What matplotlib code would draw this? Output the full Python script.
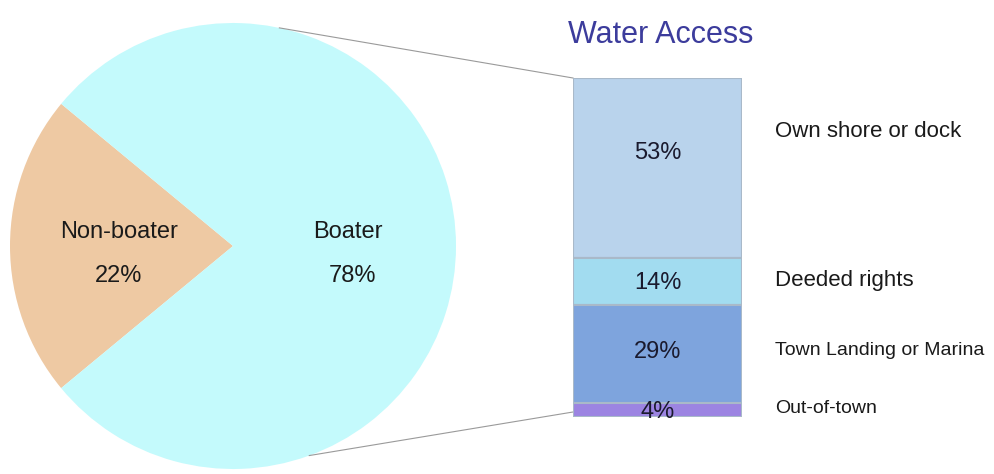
import matplotlib.pyplot as plt
import numpy as np

plt.rcParams['font.family'] = ['Liberation Sans', 'DejaVu Sans']

# pie: boaters vs non-boaters
pie_labels = ["Non-boater", "Boater"]
pie_values = [22, 78]
pie_colors = ["#eec9a3", "#c4fafc"]

# bar: water access among boaters
access_labels = ["Own shore or dock", "Deeded rights", "Town Landing or Marina", "Out-of-town"]
access_values = [53, 14, 29, 4]
access_colors = ["#b9d3ec", "#a2dcf0", "#7ea4dd", "#9c84e2"]

W, H = 994, 474
fig = plt.figure(figsize=(W / 100, H / 100), dpi=100)

# main axes in pixel units (y up)
ax = fig.add_axes([0, 0, 1, 1])
cx, cy, r = 233, H - 246, 223
start = 180 - pie_values[0] * 360 / 100 / 2
wedges, _ = ax.pie(pie_values, colors=pie_colors, startangle=start, counterclock=True,
                   center=(cx, cy), radius=r, frame=True)
ax.set_xlim(0, W)
ax.set_ylim(0, H)
ax.set_aspect('equal')
ax.axis('off')

# pie labels
txt = '#1a1a1a'
for (x, y), name, v in zip([(119, 232), (348, 232)], pie_labels, pie_values):
    ax.text(x, H - y, name, ha='center', va='center', fontsize=17, color=txt)
    ax.text(x + (4 if name == "Boater" else 0), H - 276, f"{v}%", ha='center', va='center',
            fontsize=17, color=txt)

# bar axes
bx0, bx1, by_top, by_bot = 573, 742, 78, 417
px_per = (by_bot - by_top) / 100
bax = fig.add_axes([bx0 / W, (H - by_bot) / H, (bx1 - bx0) / W, (by_bot - by_top) / H])
bottoms = 100 - np.cumsum(access_values)
bax.bar(0, access_values, bottom=bottoms, width=1, color=access_colors,
        edgecolor='#a9b9c9', linewidth=1.5)
bax.set_xlim(-0.5, 0.5)
bax.set_ylim(0, 100)
bax.axis('off')

val_dy = [15, -2, 2, -2]
lab_dy = [36, 1, 4, 2]
lab_fs = [16, 16, 14, 14]
for i, v in enumerate(access_values):
    mid = bottoms[i] + v / 2
    bax.text(0, mid + val_dy[i] / px_per, f"{v}%", ha='center', va='center',
             fontsize=17, color='#1a1a2e')
    bax.text(0.5 + 33 / (bx1 - bx0), mid + lab_dy[i] / px_per, access_labels[i],
             ha='left', va='center', fontsize=lab_fs[i], color=txt, clip_on=False)

# title
fig.text(661 / W, 1 - 35 / H, "Water Access", ha='center', va='center',
         fontsize=22, color='#3c3c9c')

# connector lines from pie to bar
for ang, by in [(78, by_top), (-70, by_bot - 5)]:
    px = cx + r * np.cos(np.radians(ang))
    py = cy + r * np.sin(np.radians(ang))
    ax.plot([px, bx0], [py, H - by], color='#9a9a9a', linewidth=0.8)

fig.savefig("out.png", dpi=100)
